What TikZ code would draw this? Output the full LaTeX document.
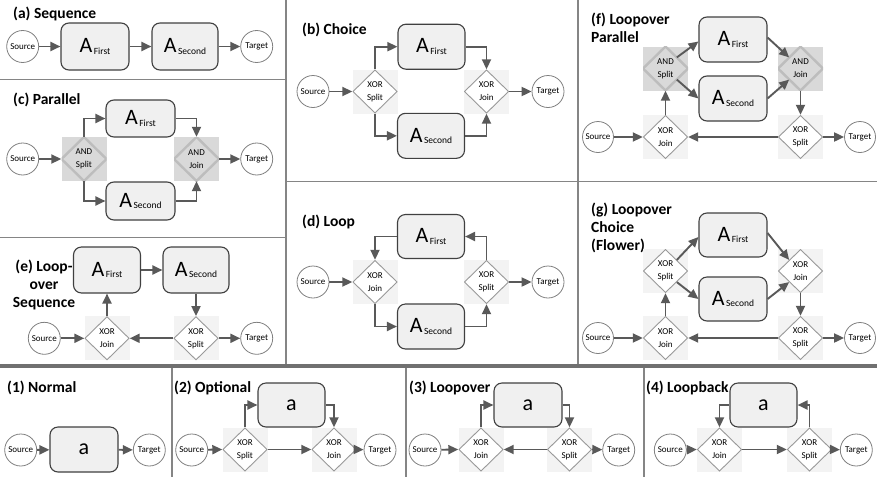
\documentclass[tikz,border=0pt]{standalone}
\usepackage{fontspec}
\setmainfont{Carlito}
\usetikzlibrary{arrows.meta,calc}
\definecolor{arrc}{HTML}{595959}
\definecolor{boxd}{HTML}{404040}
\definecolor{boxf}{HTML}{F0F0F0}
\definecolor{circd}{HTML}{808080}
\definecolor{xorbg}{HTML}{F3F3F3}
\definecolor{xord}{HTML}{999999}
\definecolor{andbg}{HTML}{D9D9D9}
\definecolor{andd}{HTML}{BDBDBD}
\definecolor{divc}{HTML}{858585}
\definecolor{thdivc}{HTML}{707070}
\newcommand\Abox[1]{{\fontsize{22}{22}\selectfont A}\hspace{1.5pt}\raisebox{-1.5pt}{\fontsize{9.5}{10}\selectfont #1}}
\newcommand\abox{{\fontsize{22}{22}\selectfont a}}
\tikzset{
  arr/.style={draw=arrc, line width=1.9pt, -{Triangle[length=10pt,width=9pt]}},
  act/.style={rectangle, rounded corners=8pt, draw=boxd, line width=1.1pt, fill=boxf,
    minimum width=67pt, minimum height=45pt, inner sep=0pt},
  ev/.style={circle, draw=circd, line width=0.8pt, fill=white, minimum size=32pt,
    inner sep=0pt, font=\fontsize{9}{10}\selectfont},
  gw/.style={rectangle, minimum width=45pt, minimum height=44pt, inner sep=0pt,
    align=center, font=\fontsize{9}{13}\selectfont},
  xorgw/.style={gw, fill=xorbg, path picture={
    \fill[white, draw=xord, line width=0.9pt]
      ([yshift=-0.5pt]path picture bounding box.north) --
      ([xshift=-0.5pt]path picture bounding box.east) --
      ([yshift=0.5pt]path picture bounding box.south) --
      ([xshift=0.5pt]path picture bounding box.west) -- cycle;}},
  andgw/.style={gw, fill=andbg, path picture={
    \draw[andd, line width=2.4pt]
      (path picture bounding box.north) --
      (path picture bounding box.east) --
      (path picture bounding box.south) --
      (path picture bounding box.west) -- cycle;}},
  ttl/.style={font=\fontsize{15.5}{18}\selectfont\bfseries, inner sep=0pt, anchor=west},
  div/.style={draw=divc, line width=1.5pt},
  thickdiv/.style={draw=thdivc, line width=3.5pt},
}
\begin{document}
\begin{tikzpicture}[x=1pt,y=-1pt]
\useasboundingbox (0,0) rectangle (877,477);
% dividers
\draw[div] (286,0) -- (286,366);
\draw[div] (578,0) -- (578,366);
\draw[div] (0,79.5) -- (286,79.5);
\draw[div] (0,237.5) -- (286,237.5);
\draw[div] (286,181.5) -- (877,181.5);
\draw[div] (172,366) -- (172,477);
\draw[div] (406,366) -- (406,477);
\draw[div] (644,366) -- (644,477);
\draw[thickdiv] (0,366) -- (877,366);
% titles
\node[ttl] (ta) at (13,13.5) {(a) Sequence};
\node[ttl] (tc) at (13,100) {(c) Parallel};
\node[ttl, align=center, anchor=center] (te) at (44,285) {(e) Loop-\\over\\Sequence};
\node[ttl] (tb) at (302,30) {(b) Choice};
\node[ttl] (td) at (302,221.5) {(d) Loop};
\node[ttl, align=left] (tf) at (591,27.5) {(f) Loopover\\Parallel};
\node[ttl, align=left] (tg) at (591,227.5) {(g) Loopover\\Choice\\(Flower)};
\node[ttl] (t1) at (7,388) {(1) Normal};
\node[ttl] (t2) at (174,388) {(2) Optional};
\node[ttl] (t3) at (409,388) {(3) Loopover};
\node[ttl] (t4) at (646,388) {(4) Loopback};

% (a) Sequence
\node[ev] (aSrc) at (22.7,46.5) {Source};
\node[act, minimum height=47pt, minimum width=68pt] (aAF) at (95,46.5) {\Abox{First}};
\node[act, minimum height=47pt, minimum width=66pt] (aAS) at (185,46.5) {\Abox{Second}};
\node[ev] (aTgt) at (256.7,46.5) {Target};
\draw[arr] (aSrc) -- (aAF);
\draw[arr] (aAF) -- (aAS);
\draw[arr] (aAS) -- (aTgt);

% (c) Parallel
\node[ev] (cSrc) at (22.7,159) {Source};
\node[andgw] (cAs) at (84,159) {AND\\Split};
\node[act, minimum height=37pt, minimum width=69pt] (cAF) at (140.5,118.5) {\Abox{First}};
\node[act, minimum height=38pt, minimum width=69pt] (cAS) at (140.5,201) {\Abox{Second}};
\node[andgw] (cAj) at (196.5,159) {AND\\Join};
\node[ev] (cTgt) at (256.7,159) {Target};
\draw[arr] (cSrc) -- (cAs.west);
\draw[arr] (cAs.north) |- (cAF.west);
\draw[arr] (cAs.south) |- (cAS.west);
\draw[arr] (cAF.east) -| (cAj.north);
\draw[arr] (cAS.east) -| (cAj.south);
\draw[arr] (cAj.east) -- (cTgt);

% (e) Loop-over Sequence
\node[ev] (eSrc) at (44.3,338.3) {Source};
\node[xorgw] (eXj) at (107,338.3) {XOR\\Join};
\node[act, minimum height=46pt] (eAF) at (107,270) {\Abox{First}};
\node[act, minimum height=46pt, minimum width=66pt] (eAS) at (196,270) {\Abox{Second}};
\node[xorgw] (eXs) at (196,338.3) {XOR\\Split};
\node[ev] (eTgt) at (256.7,338.3) {Target};
\draw[arr] (eSrc) -- (eXj.west);
\draw[arr] (eXj.north) -- (eAF.south);
\draw[arr] (eAF) -- (eAS);
\draw[arr] (eAS.south) -- (eXs.north);
\draw[arr] (eXs.west) -- (eXj.east);
\draw[arr] (eXs.east) -- (eTgt);

% (b) Choice
\node[ev] (bSrc) at (313,91.5) {Source};
\node[xorgw] (bXs) at (375,91.5) {XOR\\Split};
\node[act] (bAF) at (431.5,46.7) {\Abox{First}};
\node[act] (bAS) at (431,135.8) {\Abox{Second}};
\node[xorgw] (bXj) at (486.5,91.5) {XOR\\Join};
\node[ev] (bTgt) at (548,91.5) {Target};
\draw[arr] (bSrc) -- (bXs.west);
\draw[arr] (bXs.north) |- (bAF.west);
\draw[arr] (bXs.south) |- (bAS.west);
\draw[arr] (bAF.east) -| (bXj.north);
\draw[arr] (bAS.east) -| (bXj.south);
\draw[arr] (bXj.east) -- (bTgt);

% (d) Loop
\node[ev] (dSrc) at (313,282) {Source};
\node[xorgw] (dXj) at (375,282) {XOR\\Join};
\node[act, minimum height=44pt] (dAF) at (431,236.5) {\Abox{First}};
\node[act] (dAS) at (431,326.5) {\Abox{Second}};
\node[xorgw] (dXs) at (486.5,282) {XOR\\Split};
\node[ev] (dTgt) at (548,282) {Target};
\draw[arr] (dSrc) -- (dXj.west);
\draw[arr] (dXs.north) |- (dAF.east);
\draw[arr] (dAF.west) -| (dXj.north);
\draw[arr] (dXj.south) |- (dAS.west);
\draw[arr] (dAS.east) -| (dXs.south);
\draw[arr] (dXs.east) -- (dTgt);

% (f) Loopover Parallel
\node[ev, minimum size=31pt] (fSrc) at (598,137) {Source};
\node[xorgw] (fXj) at (665.5,137) {XOR\\Join};
\node[andgw] (fAs) at (665.5,68.5) {AND\\Split};
\node[act, minimum width=68pt] (fAF) at (733,39.5) {\Abox{First}};
\node[act, minimum width=68pt] (fAS) at (733,98.5) {\Abox{Second}};
\node[andgw] (fAj) at (800.5,68.5) {AND\\Join};
\node[xorgw] (fXs) at (800.5,137) {XOR\\Split};
\node[ev, minimum size=31pt] (fTgt) at (860,137) {Target};
\draw[arr] (fSrc) -- (fXj.west);
\draw[arr] (fXj.north) -- (fAs.south);
\draw[arr] ($(fAs.center)!0.5!(fAs.north east)$) -- ([yshift=-2pt]fAF.west);
\draw[arr] ($(fAs.center)!0.5!(fAs.south east)$) -- (fAS.west);
\draw[arr] ([yshift=2pt]fAF.east) -- ($(fAj.center)!0.5!(fAj.north west)$);
\draw[arr] (fAS.east) -- ($(fAj.center)!0.5!(fAj.south west)$);
\draw[arr] (fAj.south) -- (fXs.north);
\draw[arr] (fXs.west) -- (fXj.east);
\draw[arr] (fXs.east) -- (fTgt);

% (g) Loopover Choice (Flower)
\node[ev, minimum size=31pt] (gSrc) at (598,338) {Source};
\node[xorgw] (gXj) at (665.5,338) {XOR\\Join};
\node[xorgw] (gXs1) at (665.5,271) {XOR\\Split};
\node[act, minimum width=68pt, minimum height=44pt] (gAF) at (733,235) {\Abox{First}};
\node[act, minimum width=68pt, minimum height=44pt] (gAS) at (733,299) {\Abox{Second}};
\node[xorgw] (gXj2) at (800.5,271) {XOR\\Join};
\node[xorgw] (gXs) at (800.5,338) {XOR\\Split};
\node[ev, minimum size=31pt] (gTgt) at (860,338) {Target};
\draw[arr] (gSrc) -- (gXj.west);
\draw[arr] (gXj.north) -- (gXs1.south);
\draw[arr] ($(gXs1.center)!0.5!(gXs1.north east)$) -- ([yshift=-2pt]gAF.west);
\draw[arr] ($(gXs1.center)!0.5!(gXs1.south east)$) -- (gAS.west);
\draw[arr] ([yshift=2pt]gAF.east) -- ($(gXj2.center)!0.5!(gXj2.north west)$);
\draw[arr] (gAS.east) -- ($(gXj2.center)!0.5!(gXj2.south west)$);
\draw[arr] (gXj2.south) -- (gXs.north);
\draw[arr] (gXs.west) -- (gXj.east);
\draw[arr] (gXs.east) -- (gTgt);

% (1) Normal
\node[ev] (n1Src) at (20.7,450) {Source};
\node[act, minimum width=68pt] (n1A) at (84,449.5) {\abox};
\node[ev] (n1Tgt) at (149.3,450) {Target};
\draw[arr] (n1Src) -- (n1A);
\draw[arr] (n1A) -- (n1Tgt);

% (2) Optional
\node[ev] (n2Src) at (191.7,450) {Source};
\node[xorgw] (n2Xs) at (245,449.5) {XOR\\Split};
\node[act, minimum height=44pt] (n2A) at (291.5,405) {\abox};
\node[xorgw] (n2Xj) at (334,449.5) {XOR\\Join};
\node[ev] (n2Tgt) at (380,450) {Target};
\draw[arr] (n2Src) -- (n2Xs.west);
\draw[arr] (n2Xs.north) |- (n2A.west);
\draw[arr] (n2A.east) -| (n2Xj.north);
\draw[arr] (n2Xs.east) -- (n2Xj.west);
\draw[arr] (n2Xj.east) -- (n2Tgt);

% (3) Loopover
\node[ev] (n3Src) at (425,450) {Source};
\node[xorgw] (n3Xj) at (481,449.5) {XOR\\Join};
\node[act, minimum width=68pt, minimum height=44pt] (n3A) at (528,405) {\abox};
\node[xorgw] (n3Xs) at (569.5,449.5) {XOR\\Split};
\node[ev] (n3Tgt) at (618.7,450) {Target};
\draw[arr] (n3Src) -- (n3Xj.west);
\draw[arr] (n3Xj.north) |- (n3A.west);
\draw[arr] (n3A.east) -| (n3Xs.north);
\draw[arr] (n3Xs.west) -- (n3Xj.east);
\draw[arr] (n3Xs.east) -- (n3Tgt);

% (4) Loopback
\node[ev] (n4Src) at (670.3,450) {Source};
\node[xorgw] (n4Xj) at (719.5,449.5) {XOR\\Join};
\node[act, minimum height=44pt] (n4A) at (763.5,405) {\abox};
\node[xorgw] (n4Xs) at (809.5,449.5) {XOR\\Split};
\node[ev] (n4Tgt) at (856.3,450) {Target};
\draw[arr] (n4Src) -- (n4Xj.west);
\draw[arr] (n4A.west) -| (n4Xj.north);
\draw[arr] (n4Xs.north) |- (n4A.east);
\draw[arr] (n4Xj.east) -- (n4Xs.west);
\draw[arr] (n4Xs.east) -- (n4Tgt);
\end{tikzpicture}
\end{document}
